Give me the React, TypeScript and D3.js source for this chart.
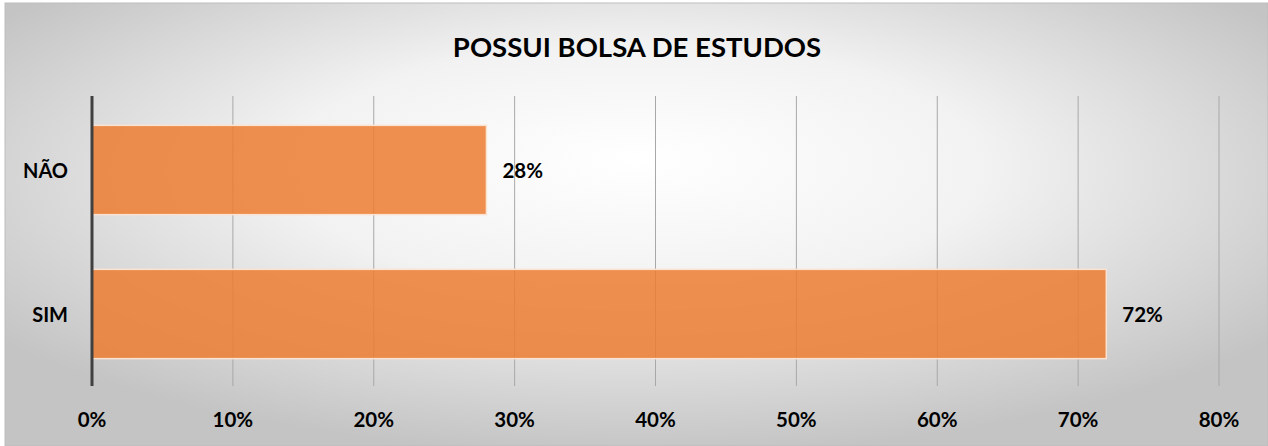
import React from "react";
import * as d3 from "d3";

const categories = ["NÃO", "SIM"];
const values = [28, 72];
const tickValues = [0, 10, 20, 30, 40, 50, 60, 70, 80];
const title = "POSSUI BOLSA DE ESTUDOS";

const W = 1268;
const H = 446;
const FONT = "Lato, 'Open Sans', sans-serif";

export default function App() {
  const x = d3.scaleLinear().domain([0, 80]).range([92, 1219]);
  const y = d3.scaleBand().domain(categories).range([98, 386]).paddingInner(0.38).paddingOuter(0.19);
  const top = 96;
  const bottom = 386;
  return (
    <svg width={W} height={H} style={{ position: "absolute", left: 0, top: 0 }}>
      <defs>
        <radialGradient id="bg" cx="50%" cy="40%" r="62%" fx="50%" fy="35%">
          <stop offset="0%" stopColor="#ffffff" />
          <stop offset="45%" stopColor="#f2f2f2" />
          <stop offset="100%" stopColor="#c4c4c4" />
        </radialGradient>
      </defs>
      <rect x={0} y={0} width={W} height={H} fill="#ffffff" />
      <rect x={5} y={3} width={W - 5} height={H - 3} fill="url(#bg)" stroke="#bdbdbd" strokeWidth={1} />
      <text x={637} y={46} textAnchor="middle" dominantBaseline="central" fontFamily={FONT} fontWeight={700} fontSize={27.5} fill="#000">
        {title}
      </text>
      {tickValues.map((t) => (
        <line key={"g" + t} x1={x(t)} x2={x(t)} y1={top} y2={bottom} stroke={t === 0 ? "none" : "#a8a8a8"} strokeWidth={1} />
      ))}
      {categories.map((c, i) => (
        <g key={c}>
          <rect
            x={x(0)}
            y={y(c)}
            width={x(values[i]) - x(0)}
            height={y.bandwidth()}
            fill="#ED7D31"
            fillOpacity={0.85}
            stroke="#fbe3d2"
            strokeWidth={1.5}
          />
          <text x={x(values[i]) + 16} y={y(c)! + y.bandwidth() / 2} dominantBaseline="central" fontFamily={FONT} fontWeight={700} fontSize={20.5} fill="#000">
            {values[i]}%
          </text>
          <text x={68} y={y(c)! + y.bandwidth() / 2} textAnchor="end" dominantBaseline="central" fontFamily={FONT} fontWeight={700} fontSize={20} fill="#000">
            {c}
          </text>
        </g>
      ))}
      <line x1={x(0)} x2={x(0)} y1={top} y2={bottom} stroke="#404040" strokeWidth={3} />
      {tickValues.map((t) => (
        <text key={"t" + t} x={x(t)} y={419} textAnchor="middle" dominantBaseline="central" fontFamily={FONT} fontWeight={700} fontSize={20.5} fill="#000">
          {t}%
        </text>
      ))}
    </svg>
  );
}
